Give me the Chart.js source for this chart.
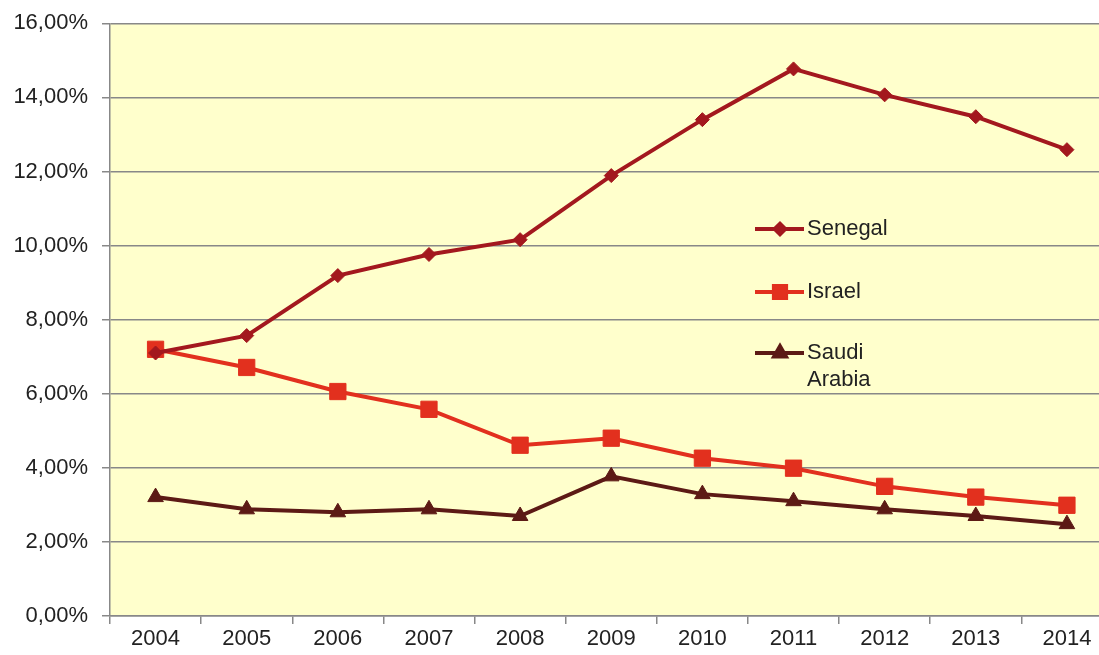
<!DOCTYPE html>
<html>
<head>
<meta charset="utf-8">
<script src="https://cdn.jsdelivr.net/npm/chart.js@4"></script>
<style>
  html, body { margin: 0; padding: 0; background: #fff; overflow: hidden; }
  #wrap { width: 1125px; height: 655px; }
</style>
</head>
<body>
<div id="wrap"><canvas id="chart"></canvas></div>
<script>
// Data (percent)
const years = ["2004", "2005", "2006", "2007", "2008", "2009", "2010", "2011", "2012", "2013", "2014"];
const senegal = [7.1, 7.57, 9.19, 9.76, 10.16, 11.89, 13.4, 14.77, 14.07, 13.48, 12.59];
const israel = [7.2, 6.71, 6.06, 5.58, 4.61, 4.8, 4.26, 3.99, 3.5, 3.21, 2.99];
const saudiArabia = [3.21, 2.88, 2.8, 2.88, 2.7, 3.77, 3.29, 3.1, 2.88, 2.7, 2.48];
const seriesNames = ["Senegal", "Israel", ["Saudi", "Arabia"]];

const colSenegal = "#a3181e";
const colIsrael = "#e2301e";
const colSaudi = "#5c1a15";
const fontFamily = "'Liberation Sans', Arial, sans-serif";

// Fill the plot area with the pale yellow background
const plotBackground = {
  id: "plotBackground",
  beforeDraw(chart) {
    const { ctx, chartArea } = chart;
    ctx.save();
    ctx.fillStyle = "#ffffcc";
    ctx.fillRect(chartArea.left, chartArea.top, chartArea.right - chartArea.left, chartArea.bottom - chartArea.top);
    ctx.restore();
  },
};

// Legend drawn inside the plot, as in the original
const insideLegend = {
  id: "insideLegend",
  afterDraw(chart) {
    const { ctx } = chart;
    const rows = [229, 292, 353];
    ctx.save();
    chart.data.datasets.forEach((ds, i) => {
      const y = rows[i];
      ctx.strokeStyle = ds.borderColor;
      ctx.lineWidth = 4;
      ctx.beginPath();
      ctx.moveTo(755, y);
      ctx.lineTo(804, y);
      ctx.stroke();
      Chart.helpers.drawPoint(ctx, {
        pointStyle: ds.pointStyle,
        radius: ds.pointRadius * 0.75,
        rotation: 0,
        borderWidth: 1,
      }, 780, y);
      ctx.fillStyle = ds.borderColor;
      ctx.fill();
      ctx.fillStyle = "#222";
      ctx.font = "22px " + fontFamily;
      ctx.textBaseline = "middle";
      ctx.textAlign = "left";
      const name = seriesNames[i];
      const lines = Array.isArray(name) ? name : [name];
      lines.forEach((t, j) => ctx.fillText(t, 807, y + j * 27));
    });
    ctx.restore();
  },
};

const ctx = document.getElementById("chart").getContext("2d");
new Chart(ctx, {
  type: "line",
  data: {
    labels: years,
    datasets: [
      {
        label: "Senegal",
        data: senegal,
        borderColor: colSenegal,
        backgroundColor: colSenegal,
        borderWidth: 4,
        pointStyle: "rectRot",
        pointRadius: 7,
        pointBorderWidth: 1,
      },
      {
        label: "Israel",
        data: israel,
        borderColor: colIsrael,
        backgroundColor: colIsrael,
        borderWidth: 4,
        pointStyle: "rect",
        pointRadius: 11.5,
        pointBorderWidth: 1,
      },
      {
        label: "Saudi Arabia",
        data: saudiArabia,
        borderColor: colSaudi,
        backgroundColor: colSaudi,
        borderWidth: 4,
        pointStyle: "triangle",
        pointRadius: 9,
        pointBorderWidth: 1,
      },
    ],
  },
  options: {
    responsive: true,
    maintainAspectRatio: false,
    animation: false,
    layout: { padding: { top: 8, right: 0, left: 0, bottom: 0 } },
    plugins: {
      legend: { display: false },
      tooltip: { enabled: false },
    },
    scales: {
      x: {
        offset: true,
        grid: {
          offset: true,
          drawOnChartArea: false,
          drawTicks: true,
          tickLength: 8,
          color: "#888",
          lineWidth: 1.5,
        },
        border: { color: "#888", width: 1.5 },
        ticks: {
          color: "#222",
          font: { family: fontFamily, size: 22 },
          padding: 2,
          maxRotation: 0,
        },
        afterFit(axis) { axis.height = 39; },
      },
      y: {
        min: 0,
        max: 16,
        grid: {
          color: "#888",
          lineWidth: 1.5,
          tickLength: 8,
        },
        border: { color: "#888", width: 1.5 },
        ticks: {
          stepSize: 2,
          color: "#222",
          padding: 14,
          font: { family: fontFamily, size: 22, lineHeight: 0.85 },
          callback: (v) => v.toFixed(2).replace(".", ",") + "%",
        },
        afterFit(axis) { axis.width = 110; },
      },
    },
  },
  plugins: [plotBackground, insideLegend],
});
</script>
</body>
</html>
